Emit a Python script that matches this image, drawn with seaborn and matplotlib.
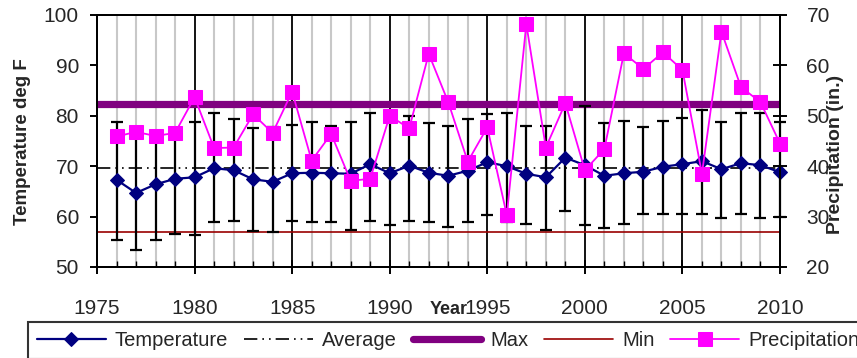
import pandas as pd
import matplotlib.pyplot as plt
import seaborn as sns
from matplotlib.ticker import MultipleLocator

# Annual temperature / precipitation record
years = [1976, 1977, 1978, 1979, 1980, 1981, 1982, 1983, 1984, 1985,
         1986, 1987, 1988, 1989, 1990, 1991, 1992, 1993, 1994, 1995,
         1996, 1997, 1998, 1999, 2000, 2001, 2002, 2003, 2004, 2005,
         2006, 2007, 2008, 2009, 2010]
temp = [67.3, 64.7, 66.4, 67.5, 67.8, 69.6, 69.2, 67.4, 66.9, 68.6,
        68.7, 68.6, 68.5, 70.4, 68.6, 70.1, 68.7, 68.1, 69.1, 70.8,
        70.0, 68.5, 67.8, 71.7, 70.2, 68.1, 68.6, 68.9, 69.9, 70.4,
        71.0, 69.4, 70.6, 70.2, 68.8]
temp_hi = [78.8, 77.0, 76.5, 77.5, 78.8, 80.5, 79.4, 77.5, 77.8, 78.2,
           78.8, 78.0, 78.8, 80.5, 79.5, 80.0, 78.5, 78.0, 79.4, 80.3,
           80.5, 78.0, 78.0, 82.5, 82.0, 78.5, 79.0, 77.7, 79.0, 79.5,
           81.2, 78.8, 80.5, 80.5, 78.8]
temp_lo = [55.4, 53.4, 55.4, 56.5, 56.3, 58.9, 59.2, 57.2, 56.9, 59.2,
           58.9, 58.9, 57.3, 59.2, 58.3, 59.2, 58.9, 58.0, 58.9, 60.3,
           58.9, 58.5, 57.3, 61.2, 58.3, 57.7, 58.5, 60.5, 60.5, 60.5,
           60.5, 59.7, 60.5, 59.7, 60.0]
precip = [45.9, 46.8, 46.0, 46.6, 53.7, 43.6, 43.7, 50.3, 46.6, 54.8,
          41.1, 46.4, 37.1, 37.5, 50.0, 47.5, 62.3, 52.7, 40.9, 47.7,
          30.3, 68.2, 43.7, 52.5, 39.2, 43.4, 62.4, 59.3, 62.6, 59.1,
          38.5, 66.7, 55.7, 52.7, 44.5]
temp_avg = 69.6
temp_max = 82.3
temp_min = 56.9

df = pd.DataFrame({'Year': years, 'Temperature': temp, 'Precipitation': precip})
err_up = [h - t for h, t in zip(temp_hi, temp)]
err_dn = [t - l for t, l in zip(temp, temp_lo)]

sns.set_style("white")
plt.rcParams['font.family'] = ['Liberation Sans', 'DejaVu Sans']

fig = plt.figure(figsize=(8.57, 3.58), dpi=100)
ax = fig.add_axes([97 / 857, 1 - 267 / 358, 683 / 857, 252 / 358])
ax2 = ax.twinx()

# reference lines
max_line = ax.axhline(temp_max, color='#800080', linewidth=5.2, zorder=2, label='Max')
min_line = ax.axhline(temp_min, color='#990000', linewidth=1.2, zorder=2, label='Min')
avg_line = ax.axhline(temp_avg, color='black', linewidth=1.2, zorder=2,
                      linestyle=(0, (8, 3, 1, 3, 1, 3)), label='Average')

# range bars
eb = ax.errorbar(years, temp, yerr=[err_dn, err_up], fmt='none', ecolor='black',
                 elinewidth=1.6, capsize=4.3, capthick=1.6, zorder=3)
for art in eb.lines[1] + eb.lines[2]:
    art.set_clip_on(False)

sns.lineplot(data=df, x='Year', y='Temperature', ax=ax, color='#000080',
             marker='D', markersize=7.5, markeredgecolor='#000080',
             linewidth=1.6, label='Temperature', zorder=4, clip_on=False)
sns.lineplot(data=df, x='Year', y='Precipitation', ax=ax2, color='#FF00FF',
             marker='s', markersize=10.5, markeredgecolor='#FF00FF',
             linewidth=1.3, label='Precipitation', zorder=5, clip_on=False)
for a in (ax, ax2):
    if a.get_legend() is not None:
        a.get_legend().remove()

# axes limits and ticks
ax.set_xlim(1975, 2010)
ax.set_ylim(50, 100)
ax2.set_ylim(20, 70)
ax.xaxis.set_major_locator(MultipleLocator(5))
ax.xaxis.set_minor_locator(MultipleLocator(1))
ax.yaxis.set_major_locator(MultipleLocator(10))
ax2.yaxis.set_major_locator(MultipleLocator(10))

ax.grid(True, which='minor', axis='x', color='#C8C8C8', linewidth=1.5)
ax.grid(True, which='major', axis='x', color='black', linewidth=1.3)
ax.grid(False, axis='y')
ax2.grid(False)
ax.set_axisbelow(True)

for a in (ax, ax2):
    for s in a.spines.values():
        s.set_color('black')
        s.set_linewidth(1.4)

ax.tick_params(axis='x', which='major', direction='inout', length=10, width=1.4,
               pad=18, labelsize=15, color='black', bottom=True)
ax.tick_params(axis='x', which='minor', direction='in', length=4, width=1.0,
               color='black', bottom=True)
ax.tick_params(axis='y', which='major', direction='out', length=5, width=1.4,
               pad=8, labelsize=15, color='black', left=True)
ax2.tick_params(axis='y', which='major', direction='inout', length=10, width=1.4,
                pad=14, labelsize=15, color='black', right=True)

# axis titles placed where the original has them
ax.set_xlabel('')
ax.set_ylabel('')
ax2.set_ylabel('')
fig.text(449 / 857, 1 - 309 / 358, 'Year', fontsize=13, fontweight='bold',
         ha='center', va='center')
fig.text(23 / 857, 1 - 142 / 358, 'Temperature deg F', fontsize=13.5,
         fontweight='bold', rotation=90, ha='center', va='center')
fig.text(836 / 857, 1 - 154 / 358, 'Precipitation (in.)', fontsize=14,
         fontweight='bold', rotation=90, ha='center', va='center')

# legend row below the chart
h1, l1 = ax.get_legend_handles_labels()
h2, l2 = ax2.get_legend_handles_labels()
lookup = dict(zip(l1 + l2, h1 + h2))
order = ['Temperature', 'Average', 'Max', 'Min', 'Precipitation']
leg = fig.legend([lookup[k] for k in order], order, ncol=5, loc='upper left',
                 bbox_to_anchor=(28 / 857, 1 - 322 / 358), frameon=True,
                 fancybox=False, edgecolor='black', fontsize=14.5, handlelength=3.4,
                 handletextpad=0.45, columnspacing=0.8, borderpad=0.45,
                 borderaxespad=0)
leg.get_frame().set_linewidth(1.5)

fig.savefig('out.png', dpi=100)
plt.close(fig)
